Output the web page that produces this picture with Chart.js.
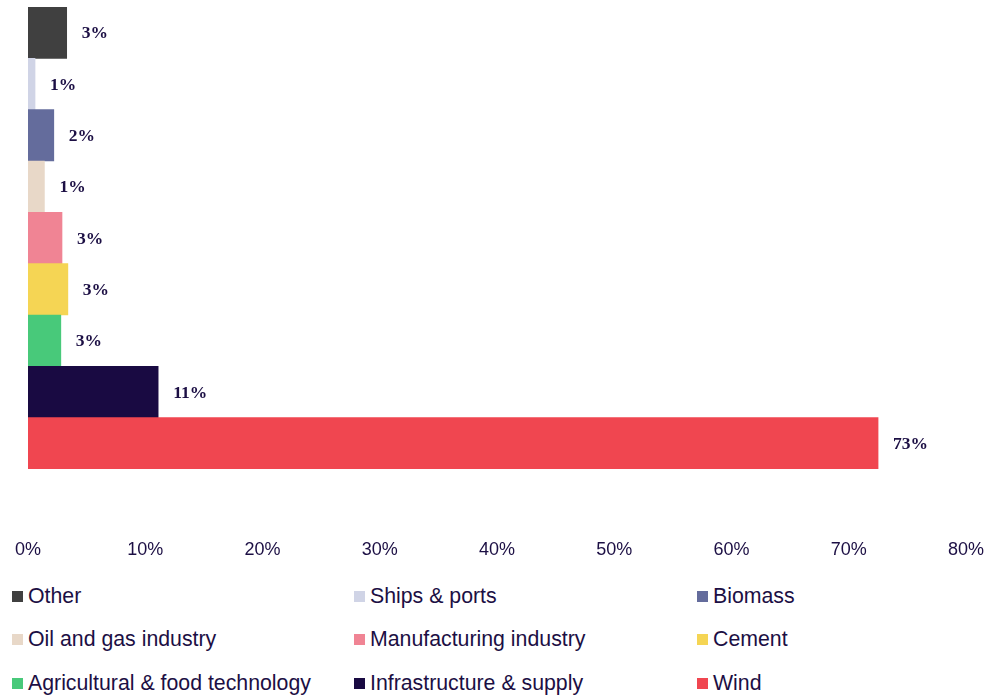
<!DOCTYPE html>
<html>
<head>
<meta charset="utf-8">
<script src="https://cdn.jsdelivr.net/npm/chart.js@4.4.1/dist/chart.umd.min.js"></script>
<style>
  body{margin:0;background:#fff;width:989px;height:698px;overflow:hidden;position:relative;font-family:"Liberation Sans",Arial,sans-serif;}
  #wrap{position:absolute;left:0;top:0;width:989px;height:570px;}
  #legend{position:absolute;left:12px;top:583px;width:977px;}
  .lg-item{position:absolute;display:flex;align-items:center;color:#1c0f44;font-size:21.3px;white-space:nowrap;height:26px;}
  .lg-box{width:11px;height:11px;margin-right:5px;flex:none;}
</style>
</head>
<body>
<div id="wrap"><canvas id="sectorChart" width="989" height="570"></canvas></div>
<div id="legend"></div>
<script>
const categories=['Other','Ships & ports','Biomass','Oil and gas industry','Manufacturing industry','Cement','Agricultural & food technology','Infrastructure & supply','Wind'];
const shares=[3.3,0.6,2.2,1.4,2.9,3.4,2.8,11.1,72.5];
const colors=['#404040','#d0d4e6','#646c9c','#e8d8c8','#f08494','#f5d554','#48c97a','#190a42','#f04650'];
const xTicks=[0,10,20,30,40,50,60,70,80];

const inkColor='#1c0f44';

// value labels at the end of each bar
const barLabels={
  id:'barLabels',
  afterDatasetsDraw(chart){
    const ctx=chart.ctx;
    const meta=chart.getDatasetMeta(0);
    ctx.save();
    ctx.font='bold 17.5px "Liberation Serif","Times New Roman",serif';
    ctx.fillStyle=inkColor;
    ctx.textAlign='left';
    ctx.textBaseline='middle';
    meta.data.forEach((bar,i)=>{
      ctx.fillText(Math.round(shares[i])+'%',bar.x+15,bar.y+1);
    });
    ctx.restore();
  }
};

new Chart(document.getElementById('sectorChart').getContext('2d'),{
  type:'bar',
  data:{labels:categories,datasets:[{data:shares,backgroundColor:colors,barPercentage:1,categoryPercentage:1,borderWidth:0}]},
  options:{
    indexAxis:'y',
    responsive:false,
    animation:false,
    layout:{padding:{left:28,right:23,top:7,bottom:10}},
    plugins:{legend:{display:false},tooltip:{enabled:false}},
    scales:{
      y:{display:false},
      x:{
        min:0,max:80,
        afterBuildTicks(axis){axis.ticks=xTicks.map(v=>({value:v}));},
        // big gap between bars and tick labels, without the side padding it brings
        afterFit(axis){axis.height=91;axis.paddingLeft=0;axis.paddingRight=0;},
        grid:{display:false,drawTicks:false},
        border:{display:false},
        ticks:{padding:70,color:inkColor,font:{family:'"Liberation Sans",Arial,sans-serif',size:18},callback:v=>v+'%',maxRotation:0}
      }
    }
  },
  plugins:[barLabels]
});

// legend in three columns, same order as the bars
const legend=document.getElementById('legend');
const colX=[0,342,685];
categories.forEach((name,i)=>{
  const item=document.createElement('div');
  item.className='lg-item';
  item.style.left=colX[i%3]+'px';
  item.style.top=(Math.floor(i/3)*43.5)+'px';
  item.innerHTML=`<span class="lg-box" style="background:${colors[i]}"></span>${name}`;
  legend.appendChild(item);
});
</script>
</body>
</html>
